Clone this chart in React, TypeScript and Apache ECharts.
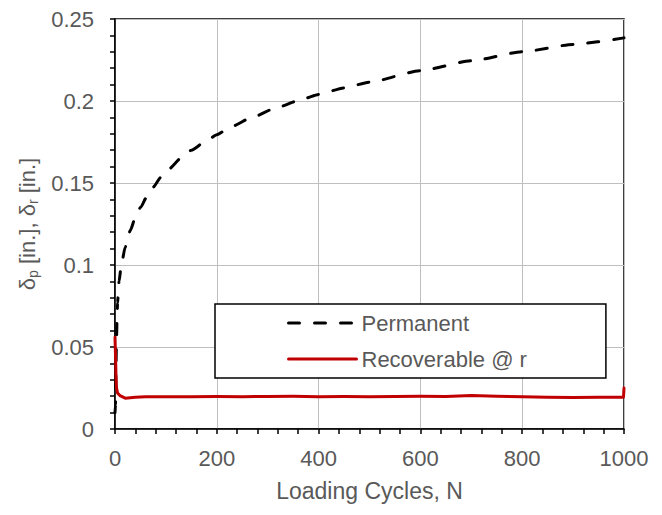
import React, { useEffect, useRef } from "react";
import * as echarts from "echarts";

const permN = [0, 1, 2, 3, 4, 5, 8, 12, 20, 30, 40, 50, 64, 75, 90, 100, 135, 150, 180, 200, 226, 272, 318, 370, 400, 450, 500, 600, 700, 800, 900, 1000];
const permV = [0.01, 0.015, 0.04, 0.055, 0.067, 0.077, 0.09, 0.099, 0.111, 0.121, 0.129, 0.135, 0.1425, 0.1475, 0.1535, 0.157, 0.1665, 0.17, 0.1758, 0.1794, 0.184, 0.1904, 0.196, 0.2013, 0.204, 0.208, 0.2115, 0.2185, 0.2245, 0.23, 0.2345, 0.2385];

const recN = [0, 1, 2, 3, 5, 10, 20, 40, 60, 100, 150, 200, 250, 300, 350, 400, 450, 500, 550, 600, 650, 700, 750, 800, 850, 900, 950, 999, 1000];
const recV = [0.056, 0.045, 0.032, 0.025, 0.022, 0.0203, 0.0188, 0.0193, 0.0196, 0.0197, 0.0196, 0.0198, 0.0197, 0.0198, 0.0199, 0.0197, 0.0198, 0.0197, 0.0198, 0.0199, 0.0198, 0.0204, 0.0199, 0.0197, 0.0193, 0.0192, 0.0193, 0.0194, 0.025];

const xTicks = [0, 200, 400, 600, 800, 1000];
const yTicks = [0, 0.05, 0.1, 0.15, 0.2, 0.25];

const FONT = "Liberation Sans";
const TXT = "#595959";

export default function App() {
  const ref = useRef<HTMLDivElement>(null);
  useEffect(() => {
    const chart = echarts.init(ref.current!, null, { renderer: "svg" });
    chart.setOption({
      animation: false,
      textStyle: { fontFamily: FONT },
      grid: { left: 104, right: 30, top: 10, bottom: 72, show: true, borderColor: "#000", borderWidth: 1.5 },
      xAxis: {
        type: "value",
        min: xTicks[0],
        max: xTicks[xTicks.length - 1],
        interval: 200,
        name: "Loading Cycles, N",
        nameLocation: "middle",
        nameGap: 50,
        nameTextStyle: { color: TXT, fontSize: 23, fontFamily: FONT },
        axisLine: { lineStyle: { color: "#000", width: 1.5 } },
        axisTick: { show: true, inside: false, length: 5, lineStyle: { color: "#000", width: 1.5 } },
        minorTick: { show: true, splitNumber: 5, length: 5, lineStyle: { color: "#000", width: 1.5 } },
        axisLabel: { color: TXT, fontSize: 22, margin: 18, fontFamily: FONT, formatter: (v: number) => String(v) },
        splitLine: { show: true, lineStyle: { color: "#BFBFBF", width: 1 } },
      },
      yAxis: {
        type: "value",
        min: yTicks[0],
        max: yTicks[yTicks.length - 1],
        interval: 0.05,
        name: "{d|δ}{s|p}{d| [in.], δ}{s|r}{d| [in.]}",
        nameLocation: "middle",
        nameGap: 75,
        nameRotate: 90,
        nameTextStyle: {
          color: TXT,
          fontSize: 22,
          fontFamily: FONT,
          rich: {
            d: { color: TXT, fontSize: 22, fontFamily: FONT },
            s: { color: TXT, fontSize: 14, fontFamily: FONT, padding: [12, 0, 0, 0] },
          },
        },
        axisLine: { lineStyle: { color: "#000", width: 1.5 } },
        axisTick: { show: true, inside: false, length: 5, lineStyle: { color: "#000", width: 1.5 } },
        minorTick: { show: true, splitNumber: 5, length: 5, lineStyle: { color: "#000", width: 1.5 } },
        axisLabel: { color: TXT, fontSize: 22, margin: 21, fontFamily: FONT, formatter: (v: number) => String(v) },
        splitLine: { show: true, lineStyle: { color: "#BFBFBF", width: 1 } },
      },
      legend: {
        orient: "vertical",
        left: 207,
        top: 296,
        padding: [8, 79, 8, 72],
        itemWidth: 68,
        itemHeight: 14,
        itemGap: 14,
        backgroundColor: "#fff",
        borderColor: "#000",
        borderWidth: 1.5,
        borderRadius: 0,
        itemStyle: { opacity: 0 },
        lineStyle: { width: 3, cap: "round" },
        textStyle: { color: TXT, fontSize: 22, fontFamily: FONT, lineHeight: 22 },
        data: ["Permanent", "Recoverable @ r"],
      },
      series: [
        {
          name: "Permanent",
          type: "line",
          data: permN.map((n, i) => [n, permV[i]]),
          showSymbol: false,
          symbol: "none",
          smooth: 0.2,
          smoothMonotone: "x",
          lineStyle: { color: "#000", width: 3, type: [11, 15], cap: "round" },
          itemStyle: { color: "#000" },
          z: 3,
        },
        {
          name: "Recoverable @ r",
          type: "line",
          data: recN.map((n, i) => [n, recV[i]]),
          showSymbol: false,
          symbol: "none",
          lineStyle: { color: "#C00000", width: 3, cap: "round", join: "round" },
          itemStyle: { color: "#C00000" },
          z: 4,
        },
      ],
    });
    return () => chart.dispose();
  }, []);
  return <div ref={ref} style={{ width: 646, height: 499 }} />;
}
